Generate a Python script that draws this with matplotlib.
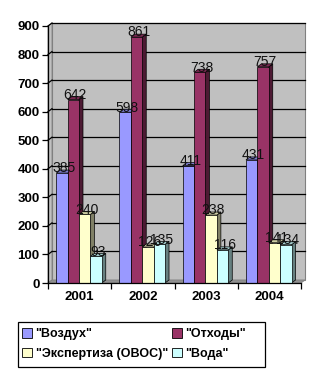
import matplotlib
matplotlib.use("Agg")
import matplotlib.pyplot as plt
from matplotlib.patches import Polygon, Rectangle, Patch

plt.rcParams['font.family'] = ['Liberation Sans', 'DejaVu Sans']

# Data
years = ['2001', '2002', '2003', '2004']
series_names = ['"Воздух"', '"Отходы"', '"Экспертиза (ОВОС)"', '"Вода"']
vozduh = [385, 598, 411, 431]
othody = [642, 861, 738, 757]
ekspertiza = [240, 126, 238, 141]
voda = [93, 135, 116, 134]
series = [vozduh, othody, ekspertiza, voda]

front_colors = ['#9999FF', '#993366', '#FFFFCC', '#CCFFFF']
side_colors = ['#4D4D80', '#4D1A33', '#808066', '#668080']
top_colors = ['#7A7ACC', '#7A2952', '#CCCCA3', '#A3CCCC']

W, H = 323, 374
fig = plt.figure(figsize=(W / 100, H / 100), dpi=100)
# front plane of the plot, in pixels
left_px, right_px, zero_px, top_px = 48, 301, 283, 26
ax = fig.add_axes([left_px / W, (H - zero_px) / H,
                   (right_px - left_px) / W, (zero_px - top_px) / H])
ax.set_xlim(0, 4)
ax.set_ylim(0, 900)

# depth of 3D effect converted to data units
dx = 4 * 4 / (right_px - left_px)
dy = 3 * 900 / (zero_px - top_px)

# walls and floor
ax.add_patch(Rectangle((dx, dy), 4, 900, facecolor='#C0C0C0',
                       edgecolor='#808080', lw=0.8, zorder=0, clip_on=False))
ax.add_patch(Polygon([(0, 0), (dx, dy), (dx, 900 + dy), (0, 900)],
                     facecolor='#C0C0C0', edgecolor='#808080', lw=0.6,
                     zorder=0, clip_on=False))
ax.add_patch(Polygon([(0, 0), (4, 0), (4 + dx, dy), (dx, dy)],
                     facecolor='#909090', edgecolor='#808080', lw=0.6,
                     zorder=0.5, clip_on=False))

# gridlines on back wall + left wall
for v in range(100, 1000, 100):
    ax.plot([dx, 4 + dx], [v + dy, v + dy], color='black', lw=0.9,
            zorder=1, clip_on=False)
    ax.plot([0, dx], [v, v + dy], color='black', lw=0.9,
            zorder=1, clip_on=False)

# bars
w = 0.18
offset = 0.13
for i in range(len(years)):
    for j, vals in enumerate(series):
        h = vals[i]
        x0 = i + offset + j * w
        z = 2 + j * 0.1
        ax.add_patch(Polygon([(x0 + w, 0), (x0 + w + dx, dy),
                              (x0 + w + dx, h + dy), (x0 + w, h)],
                             facecolor=side_colors[j], edgecolor='black',
                             lw=0.5, zorder=z, clip_on=False))
        ax.add_patch(Polygon([(x0, h), (x0 + w, h), (x0 + w + dx, h + dy),
                              (x0 + dx, h + dy)],
                             facecolor=top_colors[j], edgecolor='black',
                             lw=0.5, zorder=z, clip_on=False))
        ax.add_patch(Rectangle((x0, 0), w, h, facecolor=front_colors[j],
                               edgecolor='black', lw=0.5, zorder=z,
                               clip_on=False))
        ax.text(x0 + w / 2 + dx / 2, h - 8, str(h), ha='center',
                va='bottom', fontsize=10, color='#111111', zorder=5)

# axes styling
for s in ['top', 'right']:
    ax.spines[s].set_visible(False)
ax.spines['left'].set_linewidth(0.9)
ax.spines['bottom'].set_linewidth(0.9)
ax.spines['left'].set_zorder(3)
ax.spines['bottom'].set_zorder(3)
ax.set_yticks(range(0, 1000, 100))
ax.set_xticks(range(0, 5))
ax.set_xticklabels([])
ax.set_xticks([i + 0.5 for i in range(4)], minor=True)
ax.set_xticklabels(years, minor=True, fontsize=9.5, fontweight='bold')
ax.tick_params(axis='x', which='minor', length=0, pad=6)
ax.tick_params(axis='x', which='major', length=4, direction='out', width=0.9)
ax.tick_params(axis='y', length=4, direction='out', width=0.9, pad=2,
               labelsize=9.5)
for lab in ax.get_yticklabels():
    lab.set_fontweight('bold')

# legend (column-wise fill), frame drawn separately
handles = [Patch(facecolor=c, edgecolor='black', lw=0.6) for c in front_colors]
order = [0, 2, 1, 3]
leg = fig.legend([handles[k] for k in order], [series_names[k] for k in order],
                 ncol=2, loc='upper left',
                 bbox_to_anchor=(18 / W, (H - 324) / H),
                 frameon=False,
                 prop={'size': 9, 'weight': 'bold'},
                 handlelength=0.75, handleheight=0.75, handletextpad=0.3,
                 columnspacing=0.35, borderpad=0.35, labelspacing=0.6,
                 borderaxespad=0)
fig.add_artist(Rectangle((18 / W, (H - 367) / H), 247 / W, 45 / H,
                         transform=fig.transFigure, facecolor='none',
                         edgecolor='black', lw=0.9))

fig.savefig('out.png', dpi=100)
